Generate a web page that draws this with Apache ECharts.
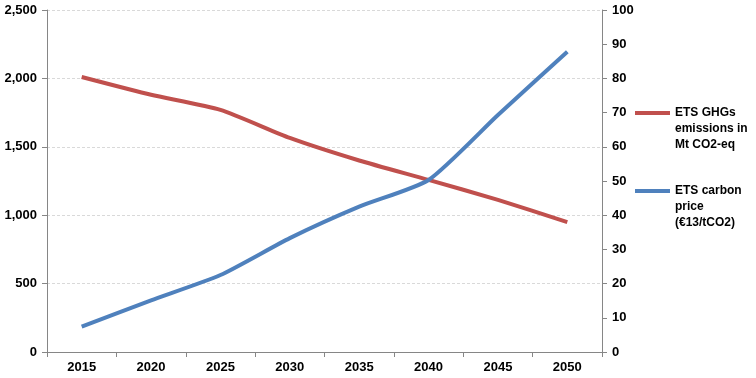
<!DOCTYPE html>
<html>
<head>
<meta charset="utf-8">
<script src="https://cdn.jsdelivr.net/npm/echarts@6/dist/echarts.min.js"></script>
<style>
html,body{margin:0;padding:0;background:#fff;}
#chart{width:756px;height:378px;}
</style>
</head>
<body>
<div id="chart"></div>
<script>
var years = ['2015','2020','2025','2030','2035','2040','2045','2050'];
var emissionsName = 'ETS GHGs\nemissions in\nMt CO2-eq';
var emissions = [2010, 1880, 1770, 1565, 1400, 1258, 1112, 950];
var priceName = 'ETS carbon\nprice\n(€13/tCO2)';
var carbonPrice = [7.4, 15.1, 22.5, 33.3, 42.5, 50.3, 69.3, 87.8];

var font = '"Liberation Sans", Arial, sans-serif';
var axisColor = '#868686';
var chart = echarts.init(document.getElementById('chart'), null, {renderer: 'canvas'});
var legendIcon = 'path://M0,6H35V10H0Z M0,0H0.05V0.05H0Z M0,47.95H0.05V48H0Z';

chart.setOption({
  animation: false,
  backgroundColor: '#ffffff',
  grid: {left: 47, right: 154, top: 10, bottom: 26, containLabel: false},
  legend: {
    orient: 'vertical',
    left: 635,
    top: 105,
    padding: 0,
    itemWidth: 35,
    itemHeight: 48,
    itemGap: 30,
    icon: legendIcon,
    itemStyle: {borderWidth: 0},
    textStyle: {fontFamily: font, fontWeight: 'bold', fontSize: 12, color: '#000', lineHeight: 16},
    data: [emissionsName, priceName]
  },
  xAxis: {
    type: 'category',
    data: years,
    boundaryGap: true,
    axisLine: {lineStyle: {color: axisColor, width: 1}},
    axisTick: {show: true, inside: false, length: 5, lineStyle: {color: axisColor}},
    axisLabel: {fontFamily: font, fontWeight: 'bold', fontSize: 13, color: '#000', margin: 9},
    splitLine: {show: false}
  },
  yAxis: [{
    type: 'value',
    min: 0, max: 2500, interval: 500,
    position: 'left',
    axisLine: {show: true, lineStyle: {color: axisColor, width: 1}},
    axisTick: {show: true, inside: false, length: 5, lineStyle: {color: axisColor}},
    axisLabel: {fontFamily: font, fontWeight: 'bold', fontSize: 13, color: '#000', margin: 10,
      formatter: function (v) { return v.toLocaleString('en-US'); }},
    splitLine: {show: true, lineStyle: {color: '#d9d9d9', type: [3, 2], width: 1}}
  }, {
    type: 'value',
    min: 0, max: 100, interval: 10,
    position: 'right',
    axisLine: {show: true, lineStyle: {color: axisColor, width: 1}},
    axisTick: {show: true, inside: false, length: 5, lineStyle: {color: axisColor}},
    axisLabel: {fontFamily: font, fontWeight: 'bold', fontSize: 13, color: '#000', margin: 10},
    splitLine: {show: false}
  }],
  series: [{
    name: emissionsName,
    type: 'line',
    yAxisIndex: 0,
    data: emissions,
    smooth: 0.2,
    symbol: 'none',
    lineStyle: {color: '#C0504D', width: 4},
    itemStyle: {color: '#C0504D'}
  }, {
    name: priceName,
    type: 'line',
    yAxisIndex: 1,
    data: carbonPrice,
    smooth: 0.2,
    symbol: 'none',
    lineStyle: {color: '#4F81BD', width: 4},
    itemStyle: {color: '#4F81BD'}
  }]
});
</script>
</body>
</html>
